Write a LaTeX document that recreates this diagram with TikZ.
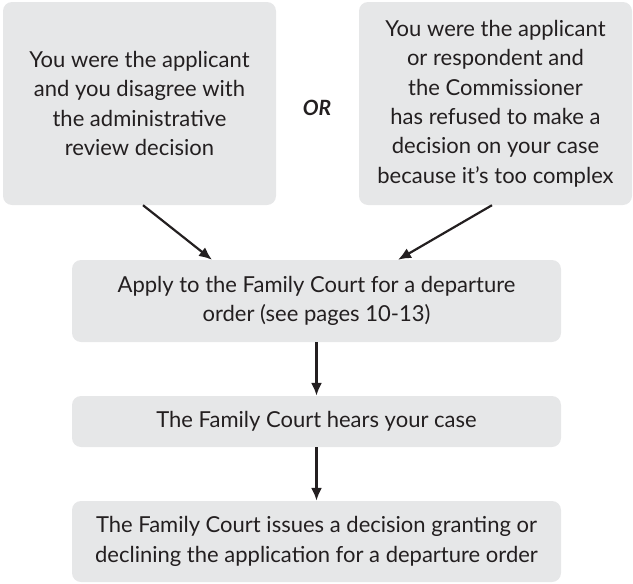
\documentclass[tikz,border=0pt]{standalone}
\usepackage{fontspec}
\setmainfont{Lato}
\usepackage{tikz}
\usetikzlibrary{arrows.meta}
\usetikzlibrary{positioning}
\definecolor{boxgray}{HTML}{E6E7E8}
\definecolor{ink}{HTML}{231F20}
\tikzstyle{stepbox}=[fill=boxgray,rounded corners=9pt,align=center,text=ink,inner sep=0pt,font=\fontsize{22}{29.4}\selectfont]

\begin{document}
\begin{tikzpicture}[x=1pt,y=-1pt,>={Latex[length=13pt,width=11pt]}]
\tikzstyle{topbox}=[stepbox,minimum width=273pt,minimum height=203pt]
\tikzstyle{flowbox}=[stepbox,minimum width=489pt]
\useasboundingbox (0,0) rectangle (633,584);

\node [topbox] (applicant) at (139.5,103.5) {You were the applicant\\and you disagree with\\the administrative\\review decision};
\node [topbox] (refused) at (495.5,103.5) {You were the applicant\\or respondent and\\the Commissioner\\has refused to make a\\decision on your case\\because it's too complex};
\node [text=ink,font=\fontsize{21}{24}\selectfont\bfseries\itshape] (or) at (317,108) {OR};

\node [flowbox,minimum height=82pt] (apply) at (316.5,301) {Apply to the Family Court for a departure\\order (see pages 10-13)};
\node [flowbox,minimum height=51pt] (hears) at (316.5,421.5) {The Family Court hears your case};
\node [flowbox,minimum height=81pt] (issues) at (316.5,541.5) {The Family Court issues a decision granting or\\declining the application for a departure order};

\coordinate (L) at ([xshift=-104.5pt]apply.north);
\coordinate (R) at ([xshift=81.5pt]apply.north);

\draw[->,ink,line width=2.2pt] ([xshift=3.5pt]applicant.south) -- (L);
\draw[->,ink,line width=2.2pt] ([xshift=-3.5pt]refused.south) -- (R);
\draw[->,ink,line width=2.2pt] (apply) -- (hears);
\draw[->,ink,line width=2.2pt] (hears) -- (issues);
\end{tikzpicture}
\end{document}
